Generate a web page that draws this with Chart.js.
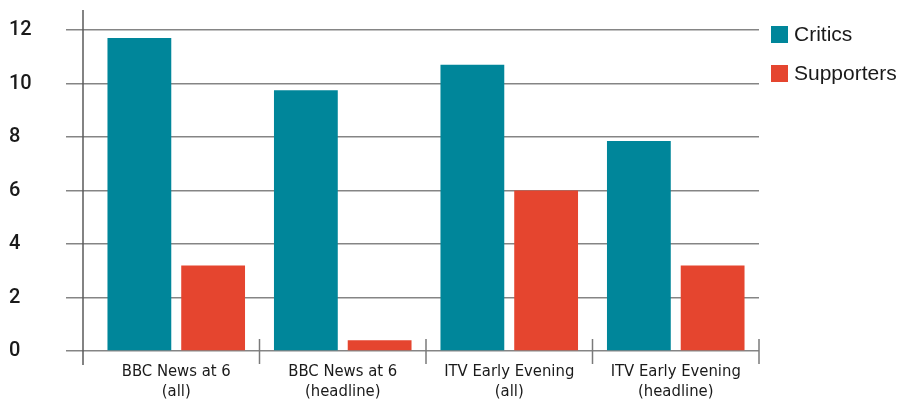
<!DOCTYPE html>
<html>
<head>
<meta charset="utf-8">
<script src="https://cdn.jsdelivr.net/npm/chart.js@4"></script>
<style>
  html, body { margin: 0; padding: 0; background: #fff; }
  #wrap { width: 904px; height: 402px; position: relative; }
</style>
</head>
<body>
<div id="wrap"><canvas id="c" width="904" height="402"></canvas></div>
<script>
const categories = [
  ['BBC News at 6', '(all)'],
  ['BBC News at 6', '(headline)'],
  ['ITV Early Evening', '(all)'],
  ['ITV Early Evening', '(headline)']
];
const seriesNames = ['Critics', 'Supporters'];
const critics = [11.7, 9.75, 10.7, 7.85];
const supporters = [3.2, 0.4, 6.0, 3.2];
const yTicks = [0, 2, 4, 6, 8, 10, 12];

const colors = ['#00869a', '#e5452f'];
const gridColor = '#858585';
const axisColor = '#5a5a5a';

const decorPlugin = {
  id: 'decor',
  afterDraw(chart) {
    const ctx = chart.ctx;
    const x = chart.scales.x;
    const y = chart.scales.y;
    const ca = chart.chartArea;
    ctx.save();
    ctx.strokeStyle = axisColor;
    ctx.lineWidth = 1.5;
    ctx.beginPath();
    ctx.moveTo(83, 10);
    ctx.lineTo(83, y.getPixelForValue(0) + 14);
    ctx.stroke();
    const n = categories.length;
    const step = n > 1 ? x.getPixelForValue(1) - x.getPixelForValue(0) : ca.right - ca.left;
    const y0 = y.getPixelForValue(0);
    ctx.strokeStyle = '#7a7a7a';
    ctx.lineWidth = 1.5;
    for (let i = 0; i < n; i++) {
      const bx = x.getPixelForValue(i) + step / 2;
      ctx.beginPath();
      ctx.moveTo(bx, y0 - 12);
      ctx.lineTo(bx, y0 + 13);
      ctx.stroke();
    }
    ctx.font = '21px "Liberation Sans", Arial, sans-serif';
    ctx.textBaseline = 'middle';
    ctx.textAlign = 'left';
    chart.data.datasets.forEach((ds, i) => {
      const top = 26 + i * 39;
      ctx.fillStyle = ds.backgroundColor;
      ctx.fillRect(771, top, 17, 17);
      ctx.fillStyle = '#1a1a1a';
      ctx.fillText(ds.label, 794, top + 9.5);
    });
    ctx.restore();
  }
};

new Chart(document.getElementById('c'), {
  type: 'bar',
  data: {
    labels: categories,
    datasets: [
      { label: seriesNames[0], data: critics, backgroundColor: colors[0] },
      { label: seriesNames[1], data: supporters, backgroundColor: colors[1] }
    ]
  },
  options: {
    responsive: false,
    animation: false,
    devicePixelRatio: 1,
    layout: { padding: { left: 9, right: 145, top: 30, bottom: 0 } },
    datasets: { bar: { categoryPercentage: 0.886, barPercentage: 0.865 } },
    plugins: { legend: { display: false }, tooltip: { enabled: false } },
    scales: {
      x: {
        grid: { display: false, drawTicks: false },
        border: { display: false },
        ticks: {
          padding: 11,
          color: '#1a1a1a',
          maxRotation: 0,
          autoSkip: false,
          font: { family: '"DejaVu Sans Condensed", sans-serif', size: 16.5, lineHeight: 1.2 }
        },
        afterFit(s) { s.height = 51; }
      },
      y: {
        min: 0,
        max: 12,
        afterBuildTicks(s) { s.ticks = yTicks.map(v => ({ value: v })); },
        grid: { color: gridColor, lineWidth: 1.5, drawTicks: true, tickLength: 27, tickColor: gridColor },
        border: { display: false },
        ticks: {
          crossAlign: 'far',
          padding: 0,
          color: '#1a1a1a',
          font: { family: 'Roboto, "Liberation Sans", sans-serif', size: 20, weight: '500' }
        },
        afterFit(s) { s.width = 84; }
      }
    }
  },
  plugins: [decorPlugin]
});
</script>
</body>
</html>
